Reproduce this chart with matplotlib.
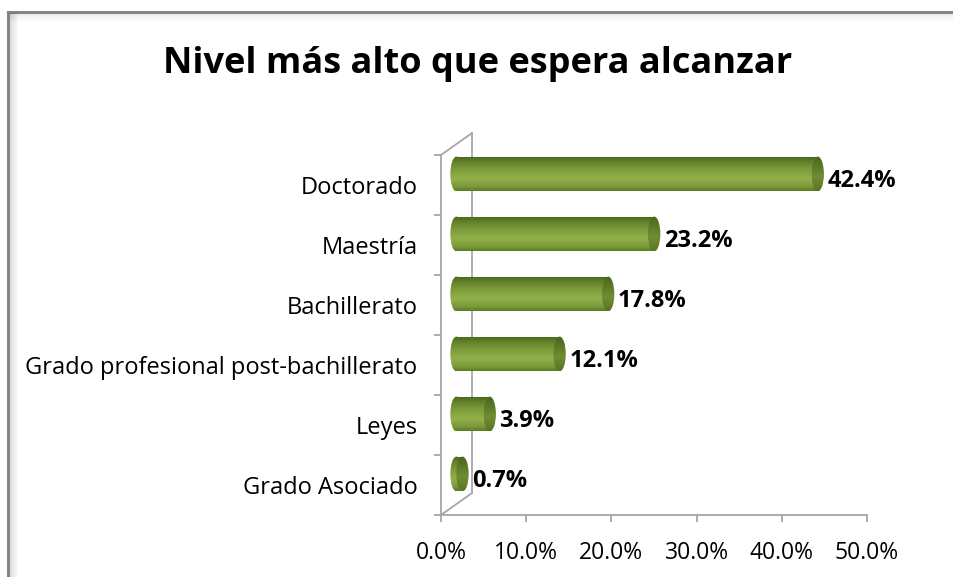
import numpy as np
import matplotlib.pyplot as plt
from matplotlib.patches import Rectangle, Ellipse
from matplotlib.lines import Line2D
from matplotlib.transforms import ScaledTranslation, IdentityTransform
from matplotlib.colors import LinearSegmentedColormap

categories = ['Grado Asociado', 'Leyes', 'Grado profesional post-bachillerato',
              'Bachillerato', 'Maestría', 'Doctorado']
values = [0.7, 3.9, 12.1, 17.8, 23.2, 42.4]
xticks = [0, 10, 20, 30, 40, 50]
title = 'Nivel más alto que espera alcanzar'

plt.rcParams['font.family'] = ['Open Sans', 'DejaVu Sans']

W, H, DPI = 954, 577, 100
fig = plt.figure(figsize=(W / DPI, H / DPI), dpi=DPI)
fig.patch.set_facecolor('white')

# chart frame: gray border on top and left with a soft inner shadow
fig.lines.append(Line2D([8 / W, 8 / W], [0, (H - 12) / H], transform=fig.transFigure,
                        color='#858585', lw=2.2, solid_capstyle='projecting'))
fig.lines.append(Line2D([8 / W, 1.0], [(H - 12) / H] * 2, transform=fig.transFigure,
                        color='#858585', lw=2.2, solid_capstyle='projecting'))
for k in range(8):
    a = 0.10 * (1 - k / 8)
    fig.lines.append(Line2D([(10 + k) / W] * 2, [0, (H - 13) / H],
                            transform=fig.transFigure, color='black', alpha=a, lw=1))
    fig.lines.append(Line2D([10 / W, 1], [(H - 14 - k) / H] * 2,
                            transform=fig.transFigure, color='black', alpha=a * 0.5, lw=1))

fig.text(478 / W, (H - 73) / H, title, ha='center', va='baseline',
         fontsize=26, fontweight='bold', color='black')

ax = fig.add_axes([441 / W, 62 / H, 426 / W, 360 / H])
ax.set_xlim(0, 50)
ax.set_ylim(-0.5, len(categories) - 0.5)
ax.patch.set_alpha(0)
for s in ['top', 'right']:
    ax.spines[s].set_visible(False)
axis_col = '#a6a6a6'
for s in ['left', 'bottom']:
    ax.spines[s].set_color(axis_col)
    ax.spines[s].set_linewidth(1.3)

ax.set_xticks(xticks)
ax.set_xticklabels(['%.1f%%' % t for t in xticks])
ax.set_yticks(range(len(categories)))
ax.set_yticklabels(categories)
ax.set_yticks(np.arange(-0.5, len(categories), 1.0), minor=True)
ax.tick_params(axis='y', which='major', length=0, pad=17, labelsize=17)
ax.tick_params(axis='y', which='minor', length=5, color=axis_col, width=1.3)
ax.tick_params(axis='x', length=5, color=axis_col, width=1.3, pad=14, labelsize=16.5)

# 3D depth offsets in pixels
dx, dy = 31, 22
back = ax.transData + ScaledTranslation(dx / DPI, dy / DPI, fig.dpi_scale_trans)
mid = ax.transData + ScaledTranslation(dx / 2 / DPI, dy / 2 / DPI, fig.dpi_scale_trans)

y0, y1 = -0.5, len(categories) - 0.5
ax.plot([0, 0], [y0, y1], color=axis_col, lw=1.3, transform=back, clip_on=False)
for yy in (y0, y1):
    px, py = ax.transData.transform((0, yy))
    ax.add_line(Line2D([px, px + dx], [py, py + dy], transform=IdentityTransform(),
                       color=axis_col, lw=1.3, clip_on=False))

# cylinder bars
body_cmap = LinearSegmentedColormap.from_list('body', [
    (0.0, '#5d7a26'), (0.12, '#7a9a38'), (0.35, '#92b04b'),
    (0.6, '#7f9e3b'), (0.85, '#61802a'), (1.0, '#4a6419')])
cap_cmap = LinearSegmentedColormap.from_list('cap', [
    (0.0, '#5a7524'), (0.4, '#6f8d33'), (1.0, '#4b651c')])
grad = np.linspace(0, 1, 64).reshape(-1, 1)
bh = 0.58
ew = 1.45

for i, v in enumerate(values):
    ylo, yhi = i - bh / 2, i + bh / 2
    left = Ellipse((0, i), ew, bh, transform=mid, facecolor='none', edgecolor='none')
    ax.add_patch(left)
    im = ax.imshow(grad, cmap=body_cmap, extent=[-ew / 2, ew / 2, yhi, ylo],
                   transform=mid, aspect='auto', interpolation='bilinear', zorder=3)
    im.set_clip_path(left)
    rect = Rectangle((0, ylo), v, bh, transform=mid, facecolor='none', edgecolor='none')
    ax.add_patch(rect)
    im = ax.imshow(grad, cmap=body_cmap, extent=[0, v, yhi, ylo],
                   transform=mid, aspect='auto', interpolation='bilinear', zorder=3)
    im.set_clip_path(rect)
    cap = Ellipse((v, i), ew, bh, transform=mid, facecolor='none', edgecolor='none')
    ax.add_patch(cap)
    im = ax.imshow(grad, cmap=cap_cmap, extent=[v - ew / 2, v + ew / 2, yhi, ylo],
                   transform=mid, aspect='auto', interpolation='bilinear', zorder=4)
    im.set_clip_path(cap)
    ax.text(v + ew / 2 + 0.4, i - 0.12, '%.1f%%' % v, transform=mid,
            ha='left', va='center', fontsize=17, fontweight='bold', zorder=5)

ax.set_xlim(0, 50)
ax.set_ylim(-0.5, len(categories) - 0.5)

fig.savefig('out.png', dpi=DPI)
